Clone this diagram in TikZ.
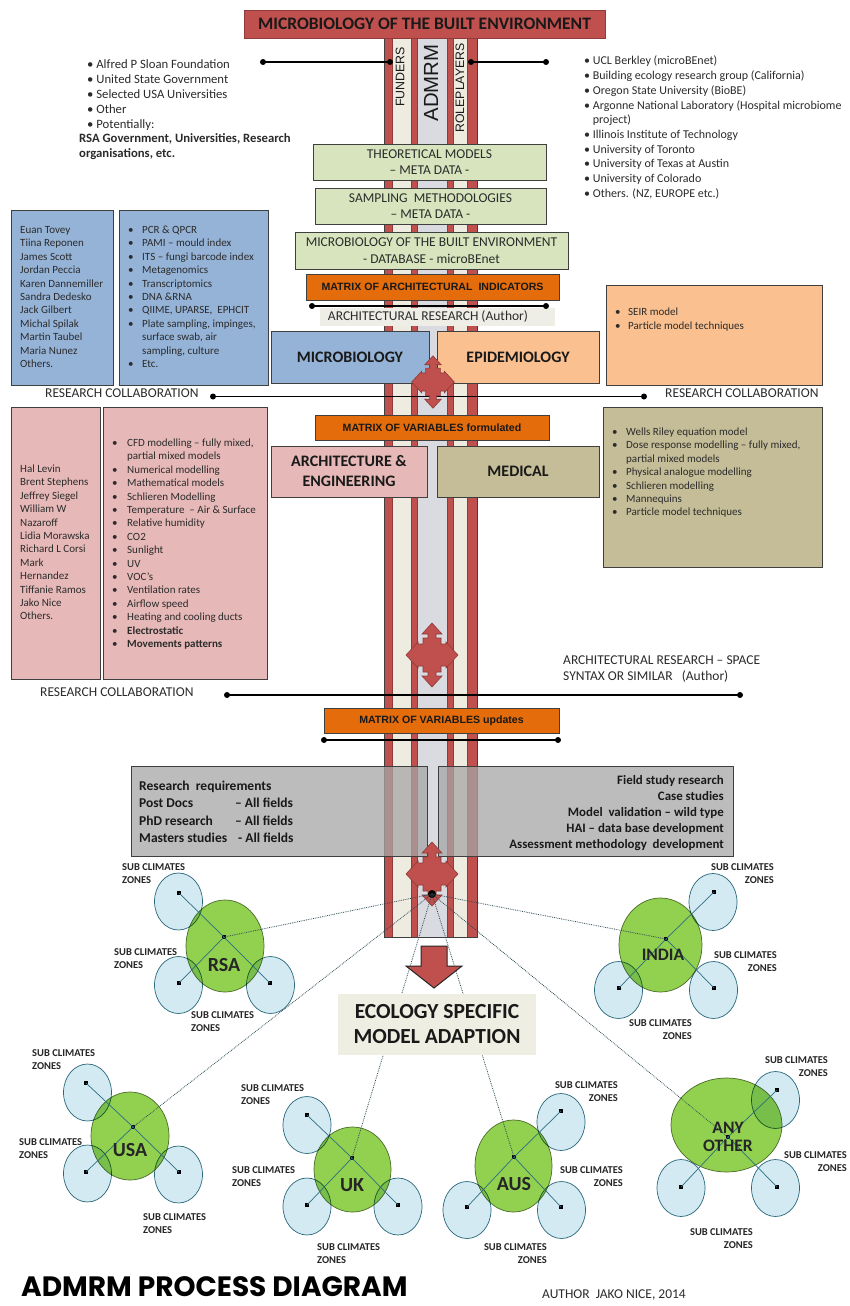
\documentclass[tikz,border=0pt]{standalone}
\usepackage{fontspec}
\setmainfont{Carlito}
\newfontfamily\arialfont{Liberation Sans}
\newfontfamily\posterfont{Poppins}
\usetikzlibrary{shapes.geometric}

\definecolor{redfill}{HTML}{C0504D}
\definecolor{reddark}{HTML}{8E3B39}
\definecolor{cream}{HTML}{EEECE1}
\definecolor{greyband}{HTML}{D9DBE0}
\definecolor{edge}{HTML}{3F3F3F}
\definecolor{textc}{HTML}{2B2B2B}
\definecolor{greenfill}{HTML}{D7E4BD}
\definecolor{orangefill}{HTML}{E46C0A}
\definecolor{bluefill}{HTML}{95B3D7}
\definecolor{peachfill}{HTML}{FAC090}
\definecolor{pinkfill}{HTML}{E6B9B8}
\definecolor{khakifill}{HTML}{C4BD97}
\definecolor{greyfill}{HTML}{A6A6A6}
\definecolor{labelbg}{HTML}{EEEEE6}
\definecolor{ecofill}{HTML}{EEEEE2}
\definecolor{countryfill}{HTML}{92D050}
\definecolor{countryedge}{HTML}{4A6B2A}
\definecolor{zonefill}{HTML}{D3EAF2}
\definecolor{zoneedge}{HTML}{2E6E80}
\definecolor{hubc}{HTML}{2F4A55}

\newcommand\blw[1]{\makebox[#1][l]{\textbullet}}
\newcommand\zoneleft{\begin{tabular}[t]{@{}l@{}}SUB CLIMATES\\ZONES\end{tabular}}
\newcommand\zoneright{\begin{tabular}[t]{@{}r@{}}SUB CLIMATES\\ZONES\end{tabular}}

\tikzset{
  panel/.style={draw=edge, line width=0.8pt, inner sep=0pt},
  greenbox/.style={panel, fill=greenfill, align=center, text=textc, font=\fontsize{13.5}{16.5}\selectfont},
  orangebox/.style={panel, fill=orangefill, text=black!90, font=\arialfont\bfseries\fontsize{10.6}{12}\selectfont},
  discipline/.style={panel, align=center, text=black!90, font=\bfseries\fontsize{16}{20}\selectfont},
  lst/.style={inner sep=0pt, anchor=base west, text=textc, font=\fontsize{11}{13.4}\selectfont},
  toplst/.style={lst, font=\fontsize{12}{14.8}\selectfont},
  caption/.style={inner sep=0pt, anchor=base west, text=textc, font=\fontsize{13.5}{16}\selectfont},
  greytext/.style={inner sep=0pt, text=black!90, font=\bfseries\fontsize{13.5}{17.3}\selectfont},
  dot/.style={circle, fill=black, inner sep=0pt, minimum size=6pt},
  conn/.style={draw=black, line width=1.1pt},
  strip/.style={fill=redfill, draw=reddark, line width=0.5pt},
  pillartext/.style={inner sep=0pt, rotate=90, text=black!90, font=\arialfont},
  country/.style={ellipse, draw=countryedge, fill=countryfill, line width=0.7pt, inner sep=0pt},
  zone/.style={ellipse, draw=zoneedge, fill=zonefill, line width=0.7pt, inner sep=0pt, minimum width=48pt, minimum height=57pt},
  sq/.style={rectangle, fill=black, inner sep=0pt, minimum size=4pt},
  spoke/.style={draw=zoneedge, line width=0.7pt},
  hubline/.style={draw=hubc, line width=0.8pt, densely dotted},
  zonelabel/.style={inner sep=0pt, text=black!85, font=\bfseries\fontsize{10.5}{13.3}\selectfont},
  countryname/.style={inner sep=0pt, text=black!85, font=\bfseries\fontsize{20}{20}\selectfont},
  quadarrow/.pic={
    \filldraw[fill=redfill, draw=reddark, line width=0.6pt]
      (0,-32) -- (10,-21) -- (4,-21) -- (4,-17) -- (9,-17) -- (9,-11) -- (14,-11) -- (14,-13)
      -- (26,0) -- (14,13) -- (14,11) -- (9,11) -- (9,17) -- (4,17) -- (4,21) -- (10,21)
      -- (0,32) -- (-10,21) -- (-4,21) -- (-4,17) -- (-9,17) -- (-9,11) -- (-14,11) -- (-14,13)
      -- (-26,0) -- (-14,-13) -- (-14,-11) -- (-9,-11) -- (-9,-17) -- (-4,-17) -- (-4,-21) -- (-10,-21) -- cycle;
  },
}

\begin{document}
\begin{tikzpicture}[x=1pt,y=-1pt]
\useasboundingbox (0,0) rectangle (849,1306);
\fill[white] (0,0) rectangle (849,1306);

% ---- central pillars: funders / ADMRM / roleplayers ----
\fill[cream] (392,38) rectangle (411,937);
\fill[greyband] (417,38) rectangle (447,937);
\fill[cream] (453,38) rectangle (467,937);
\filldraw[strip] (384,38) rectangle (392,937);
\filldraw[strip] (411,38) rectangle (417,937);
\filldraw[strip] (447,38) rectangle (453,937);
\filldraw[strip] (467,38) rectangle (477,937);
\draw[edge, line width=0.7pt] (384,38) rectangle (477,937);

\node[panel, fill=redfill, draw=reddark, minimum width=361pt, minimum height=28pt,
      font=\bfseries\fontsize{17.5}{20}\selectfont, text=black!90] (title) at (424.5,24)
      {MICROBIOLOGY OF THE BUILT ENVIRONMENT};

\node[pillartext, font=\arialfont\fontsize{12.4}{14}\selectfont] (funders) at (400,77) {FUNDERS};
\node[pillartext, font=\arialfont\fontsize{20.4}{22}\selectfont] (admrm) at (431,83) {ADMRM};
\node[pillartext, font=\arialfont\fontsize{12.3}{14}\selectfont] (roleplayers) at (460,88) {ROLEPLAYERS};

% ---- funders and roleplayers lists ----
\node[dot] (fl) at (263,62) {};
\node[dot] (fr) at (390,62) {};
\draw[conn] (fl.center) -- (fr.center);
\node[dot] (rl) at (471,62) {};
\node[dot] (rr) at (546,62) {};
\draw[conn] (rl.center) -- (rr.center);

\node[toplst, font=\fontsize{12.7}{14.8}\selectfont] (funderlist) at (79,69) {\begin{tabular}[t]{@{}l@{}}
\hspace*{8pt}\textbullet{} Alfred P Sloan Foundation\\
\hspace*{8pt}\textbullet{} United State Government\\
\hspace*{8pt}\textbullet{} Selected USA Universities\\
\hspace*{8pt}\textbullet{} Other\\
\hspace*{8pt}\textbullet{} Potentially:\\
\textbf{RSA Government, Universities, Research}\\
\textbf{organisations, etc.}\end{tabular}};

\node[toplst, font=\fontsize{12}{14.7}\selectfont] (rolelist) at (584,65) {\begin{tabular}[t]{@{}l@{}}
\textbullet{} UCL Berkley (microBEnet)\\
\textbullet{} Building ecology research group (California)\\
\textbullet{} Oregon State University (BioBE)\\
\textbullet{} Argonne National Laboratory (Hospital microbiome\\
\hphantom{\textbullet{} }project)\\
\textbullet{} Illinois Institute of Technology\\
\textbullet{} University of Toronto\\
\textbullet{} University of Texas at Austin\\
\textbullet{} University of Colorado\\
\textbullet{} Others. (NZ, EUROPE etc.)\end{tabular}};

% ---- meta data and database stack ----
\node[greenbox, minimum width=233pt, minimum height=36pt] (theory) at (429.5,162)
  {THEORETICAL MODELS\\– META DATA -};
\node[greenbox, minimum width=231pt, minimum height=36pt] (sampling) at (430.5,206)
  {SAMPLING\ \ METHODOLOGIES\\– META DATA -};
\node[greenbox, minimum width=273pt, minimum height=37pt] (database) at (431.5,250.5)
  {MICROBIOLOGY OF THE BUILT ENVIRONMENT\\- DATABASE - microBEnet};
\node[orangebox, minimum width=253pt, minimum height=26pt] (indicators) at (432.5,287)
  {MATRIX OF ARCHITECTURAL\ \ INDICATORS};

\node[fill=labelbg, inner sep=0pt, minimum width=235pt, minimum height=18pt] (archresbg) at (437.5,316.5) {};
\node[inner sep=0pt, text=textc, font=\fontsize{13.5}{15}\selectfont] (archres) at (428,316) {ARCHITECTURAL RESEARCH (Author)};
\node[dot] (al) at (312,306) {};
\node[dot] (ar) at (546,306) {};
\draw[conn] (al.center) -- (ar.center);

% ---- microbiology / epidemiology ----
\node[discipline, fill=bluefill, minimum width=158pt, minimum height=52pt] (micro) at (350,357) {MICROBIOLOGY};
\node[discipline, fill=peachfill, minimum width=162pt, minimum height=52pt] (epi) at (518,357) {EPIDEMIOLOGY};

\node[panel, fill=bluefill, minimum width=102pt, minimum height=175pt] (bluenames) at (62,297.5) {};
\node[panel, fill=bluefill, minimum width=149pt, minimum height=175pt] (bluemethods) at (193.5,297.5) {};
\node[panel, fill=peachfill, minimum width=216pt, minimum height=100pt] (seir) at (714,335) {};

\node[lst] (bluenamestext) at (20,233.5) {\begin{tabular}[t]{@{}l@{}}
Euan Tovey\\Tiina Reponen\\James Scott\\Jordan Peccia\\Karen Dannemiller\\Sandra Dedesko\\
Jack Gilbert\\Michal Spilak\\Martin Taubel\\Maria Nunez\\Others.\end{tabular}};
\node[lst] (bluemethodstext) at (128,233.5) {\begin{tabular}[t]{@{}l@{}}
\blw{14pt}PCR \& QPCR\\
\blw{14pt}PAMI – mould index\\
\blw{14pt}ITS – fungi barcode index\\
\blw{14pt}Metagenomics\\
\blw{14pt}Transcriptomics\\
\blw{14pt}DNA \&RNA\\
\blw{14pt}QIIME, UPARSE,\ \ EPHCIT\\
\blw{14pt}Plate sampling, impinges,\\
\hspace*{14pt}surface swab, air\\
\hspace*{14pt}sampling, culture\\
\blw{14pt}Etc.\end{tabular}};
\node[lst, font=\fontsize{11}{14}\selectfont] (seirtext) at (615,315.5) {\begin{tabular}[t]{@{}l@{}}
\blw{13pt}SEIR model\\
\blw{13pt}Particle model techniques\end{tabular}};

% ---- first research collaboration ----
\node[caption] (rc1l) at (45,397.5) {RESEARCH COLLABORATION};
\node[caption] (rc1r) at (665,397.5) {RESEARCH COLLABORATION};
\node[dot] (c1l) at (213,396.5) {};
\node[dot] (c1r) at (644,396.5) {};
\draw[conn] (c1l.center) -- (c1r.center);
\pic[scale=0.82] at (433,382) {quadarrow};

% ---- architecture and medical ----
\node[orangebox, minimum width=234pt, minimum height=25pt] (formulated) at (432,427.5)
  {MATRIX OF VARIABLES formulated};
\node[discipline, fill=pinkfill, minimum width=156pt, minimum height=51pt] (arch) at (349,471.5)
  {ARCHITECTURE \&\\ENGINEERING};
\node[discipline, fill=khakifill, minimum width=162pt, minimum height=51pt] (medical) at (518,471.5) {MEDICAL};

\node[panel, fill=pinkfill, minimum width=89pt, minimum height=272pt] (pinknames) at (55.5,543.5) {};
\node[panel, fill=pinkfill, minimum width=164pt, minimum height=272pt] (pinkmethods) at (185.5,543.5) {};
\node[panel, fill=khakifill, minimum width=219pt, minimum height=160pt] (medlist) at (712.5,487) {};

\node[lst] (pinknamestext) at (20,472.5) {\begin{tabular}[t]{@{}l@{}}
Hal Levin\\Brent Stephens\\Jeffrey Siegel\\William W\\Nazaroff\\Lidia Morawska\\Richard L Corsi\\
Mark\\Hernandez\\Tiffanie Ramos\\Jako Nice\\Others.\end{tabular}};
\node[lst] (pinkmethodstext) at (112,446.5) {\begin{tabular}[t]{@{}l@{}}
\blw{15pt}CFD modelling – fully mixed,\\
\hspace*{15pt}partial mixed models\\
\blw{15pt}Numerical modelling\\
\blw{15pt}Mathematical models\\
\blw{15pt}Schlieren Modelling\\
\blw{15pt}Temperature\ \ – Air \& Surface\\
\blw{15pt}Relative humidity\\
\blw{15pt}CO2\\
\blw{15pt}Sunlight\\
\blw{15pt}UV\\
\blw{15pt}VOC’s\\
\blw{15pt}Ventilation rates\\
\blw{15pt}Airflow speed\\
\blw{15pt}Heating and cooling ducts\\
\blw{15pt}\textbf{Electrostatic}\\
\blw{15pt}\textbf{Movements patterns}\end{tabular}};
\node[lst] (medlisttext) at (612,435.5) {\begin{tabular}[t]{@{}l@{}}
\blw{14pt}Wells Riley equation model\\
\blw{14pt}Dose response modelling – fully mixed,\\
\hspace*{14pt}partial mixed models\\
\blw{14pt}Physical analogue modelling\\
\blw{14pt}Schlieren modelling\\
\blw{14pt}Mannequins\\
\blw{14pt}Particle model techniques\end{tabular}};

% ---- second research collaboration ----
\pic at (432,655) {quadarrow};
\node[caption] (spacesyntax) at (563,664.5) {\begin{tabular}[t]{@{}l@{}}
ARCHITECTURAL RESEARCH – SPACE\\SYNTAX OR SIMILAR\ \ \ (Author)\end{tabular}};
\node[caption] (rc2l) at (40,696) {RESEARCH COLLABORATION};
\node[dot] (c2l) at (227,695) {};
\node[dot] (c2r) at (740,695) {};
\draw[conn] (c2l.center) -- (c2r.center);

\node[orangebox, minimum width=235pt, minimum height=25pt] (updates) at (441.5,720.5)
  {MATRIX OF VARIABLES updates};
\node[dot] (ul) at (324,740) {};
\node[dot] (ur) at (558,740) {};
\draw[conn] (ul.center) -- (ur.center);

% ---- research requirements and field studies ----
\node[panel, fill=greyfill, fill opacity=0.75, minimum width=296pt, minimum height=90pt] (reqbox) at (279,811.5) {};
\node[panel, fill=greyfill, fill opacity=0.75, minimum width=295pt, minimum height=90pt] (fieldbox) at (585.5,811.5) {};
\node[greytext, anchor=base west] (reqtext) at (139,790.5) {\begin{tabular}[t]{@{}l@{}}
Research\ \ requirements\\
\makebox[96pt][l]{Post Docs}– All fields\\
\makebox[96pt][l]{PhD research}– All fields\\
\makebox[99pt][l]{Masters studies}- All fields\end{tabular}};
\node[greytext, anchor=base east, font=\bfseries\fontsize{12.9}{16.2}\selectfont] (fieldtext) at (724,784) {\begin{tabular}[t]{@{}r@{}}
Field study research\\
Case studies\\
Model\ \ validation – wild type\\
HAI – data base development\\
Assessment methodology\ \ development\end{tabular}};

\pic at (432,874) {quadarrow};
\node[circle, fill=black, inner sep=0pt, minimum size=8pt] (hub) at (432,894) {};

% ---- countries and their sub climate zones ----
% RSA
\node[country, minimum width=78pt, minimum height=92pt] (rsa) at (225,946) {};
\begin{scope}[blend mode=multiply]
\node[zone] (rsaz1) at (178.5,901.5) {};
\node[zone] (rsaz2) at (178.5,985) {};
\node[zone] (rsaz3) at (270.5,985) {};
\end{scope}
\node[sq] (rsac) at (224,937) {};
\node[sq] (rsa1) at (179,893) {};
\node[sq] (rsa2) at (179,983) {};
\node[sq] (rsa3) at (270,983) {};
\draw[spoke] (rsac.center) -- (rsa1.center);
\draw[spoke] (rsac.center) -- (rsa2.center);
\draw[spoke] (rsac.center) -- (rsa3.center);
\node[countryname] (rsaname) at (224,965) {RSA};
\node[zonelabel, anchor=base west] (rsal1) at (122,870.5) {\zoneleft};
\node[zonelabel, anchor=base west] (rsal2) at (114,955.5) {\zoneleft};
\node[zonelabel, anchor=base west] (rsal3) at (191,1018.5) {\zoneleft};

% INDIA
\node[country, minimum width=83pt, minimum height=94pt] (india) at (660.5,945) {};
\begin{scope}[blend mode=multiply]
\node[zone] (indz1) at (713,902) {};
\node[zone] (indz2) at (618.5,990) {};
\node[zone] (indz3) at (713.5,990) {};
\end{scope}
\node[sq] (indc) at (666,939) {};
\node[sq] (ind1) at (714,892) {};
\node[sq] (ind2) at (619,988) {};
\node[sq] (ind3) at (714,988) {};
\draw[spoke] (indc.center) -- (ind1.center);
\draw[spoke] (indc.center) -- (ind2.center);
\draw[spoke] (indc.center) -- (ind3.center);
\node[countryname, font=\bfseries\fontsize{17.5}{18}\selectfont] (indianame) at (663,955) {INDIA};
\node[zonelabel, anchor=base east] (indl1) at (774,870.5) {\zoneright};
\node[zonelabel, anchor=base east] (indl2) at (777,958.5) {\zoneright};
\node[zonelabel, anchor=base east] (indl3) at (692,1026.5) {\zoneright};

% USA
\node[country, minimum width=78pt, minimum height=88pt] (usa) at (130,1136) {};
\begin{scope}[blend mode=multiply]
\node[zone] (usaz1) at (87.5,1092.5) {};
\node[zone] (usaz2) at (87.5,1173.5) {};
\node[zone] (usaz3) at (178.5,1174.5) {};
\end{scope}
\node[sq] (usac) at (133,1127) {};
\node[sq] (usa1) at (86,1083) {};
\node[sq] (usa2) at (86,1172) {};
\node[sq] (usa3) at (179,1172) {};
\draw[spoke] (usac.center) -- (usa1.center);
\draw[spoke] (usac.center) -- (usa2.center);
\draw[spoke] (usac.center) -- (usa3.center);
\node[countryname] (usaname) at (130,1150) {USA};
\node[zonelabel, anchor=base west] (usal1) at (32,1056.5) {\zoneleft};
\node[zonelabel, anchor=base west] (usal2) at (19,1145.5) {\zoneleft};
\node[zonelabel, anchor=base west] (usal3) at (143,1220.5) {\zoneleft};

% UK
\node[country, minimum width=77pt, minimum height=85pt] (uk) at (352.5,1169.5) {};
\begin{scope}[blend mode=multiply]
\node[zone] (ukz1) at (307,1125) {};
\node[zone] (ukz2) at (307,1206.5) {};
\node[zone] (ukz3) at (398,1206.5) {};
\end{scope}
\node[sq] (ukc) at (352,1158) {};
\node[sq] (uk1) at (307,1115) {};
\node[sq] (uk2) at (307,1205) {};
\node[sq] (uk3) at (398,1205) {};
\draw[spoke] (ukc.center) -- (uk1.center);
\draw[spoke] (ukc.center) -- (uk2.center);
\draw[spoke] (ukc.center) -- (uk3.center);
\node[countryname] (ukname) at (352,1185) {UK};
\node[zonelabel, anchor=base west] (ukl1) at (241,1091.5) {\zoneleft};
\node[zonelabel, anchor=base west] (ukl2) at (232,1173.5) {\zoneleft};
\node[zonelabel, anchor=base west] (ukl3) at (317,1250.5) {\zoneleft};

% AUS
\node[country, minimum width=77pt, minimum height=92pt] (aus) at (513.5,1166) {};
\begin{scope}[blend mode=multiply]
\node[zone] (ausz1) at (561,1122) {};
\node[zone] (ausz2) at (467,1210) {};
\node[zone] (ausz3) at (561.5,1210) {};
\end{scope}
\node[sq] (ausc) at (514,1157) {};
\node[sq] (aus1) at (561,1111) {};
\node[sq] (aus2) at (467,1207) {};
\node[sq] (aus3) at (561,1207) {};
\draw[spoke] (ausc.center) -- (aus1.center);
\draw[spoke] (ausc.center) -- (aus2.center);
\draw[spoke] (ausc.center) -- (aus3.center);
\node[countryname] (ausname) at (514,1184) {AUS};
\node[zonelabel, anchor=base east] (ausl1) at (618,1088.5) {\zoneright};
\node[zonelabel, anchor=base east] (ausl2) at (623,1173.5) {\zoneright};
\node[zonelabel, anchor=base east] (ausl3) at (547,1250.5) {\zoneright};

% ANY OTHER
\node[country, minimum width=111pt, minimum height=94pt] (other) at (726.5,1125) {};
\begin{scope}[blend mode=multiply]
\node[zone] (othz1) at (775.5,1100) {};
\node[zone] (othz2) at (681,1188) {};
\node[zone] (othz3) at (775.5,1188) {};
\end{scope}
\node[sq] (othc) at (728,1137) {};
\node[sq] (oth1) at (777,1090) {};
\node[sq] (oth2) at (681,1187) {};
\node[sq] (oth3) at (777,1187) {};
\draw[spoke] (othc.center) -- (oth1.center);
\draw[spoke] (othc.center) -- (oth2.center);
\draw[spoke] (othc.center) -- (oth3.center);
\node[countryname, align=center, font=\bfseries\fontsize{17.5}{18.5}\selectfont] (othname) at (728,1137) {ANY\\OTHER};
\node[zonelabel, anchor=base east] (othl1) at (828,1063.5) {\zoneright};
\node[zonelabel, anchor=base east] (othl2) at (847,1158.5) {\zoneright};
\node[zonelabel, anchor=base east] (othl3) at (753,1235.5) {\zoneright};

% ---- links from the hub to every country ----
\draw[hubline] (hub.center) -- (rsac.center);
\draw[hubline] (hub.center) -- (indc.center);
\draw[hubline] (hub.center) -- (usac.center);
\draw[hubline] (hub.center) -- (ukc.center);
\draw[hubline] (hub.center) -- (ausc.center);
\draw[hubline] (hub.center) -- (othc.center);

% ---- model adaption ----
\filldraw[fill=redfill, draw=black!85, line width=1pt]
  (421,946) -- (447,946) -- (447,966) -- (462,966) -- (434,988) -- (406,966) -- (421,966) -- cycle;
\node[fill=ecofill, inner sep=0pt, minimum width=198pt, minimum height=61pt, align=center,
      text=black!90, font=\bfseries\fontsize{21.5}{25}\selectfont] (eco) at (437,1024.5)
      {ECOLOGY SPECIFIC\\MODEL ADAPTION};

% ---- footer ----
\node[anchor=base west, inner sep=0pt, text=black, font=\posterfont\bfseries\fontsize{28}{28}\selectfont] (footertitle) at (21,1296) {ADMRM PROCESS DIAGRAM};
\node[anchor=base west, inner sep=0pt, text=textc, font=\fontsize{13.5}{14}\selectfont] (footerauthor) at (542,1298) {AUTHOR\ \ JAKO NICE, 2014};
\end{tikzpicture}
\end{document}
